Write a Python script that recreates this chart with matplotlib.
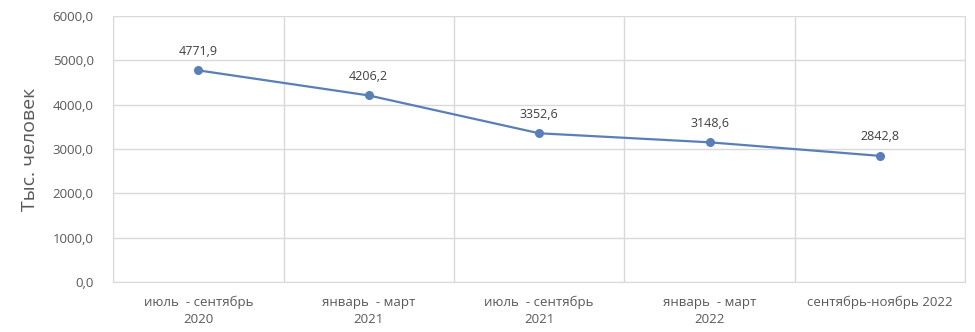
import numpy as np
from matplotlib import pyplot as plt

periods = ['июль  - сентябрь\n2020', 'январь  - март\n2021', 'июль  - сентябрь\n2021',
           'январь  - март\n2022', 'сентябрь-ноябрь 2022']
values = [4771.9, 4206.2, 3352.6, 3148.6, 2842.8]
yticks = [0, 1000, 2000, 3000, 4000, 5000, 6000]

plt.rcParams['font.family'] = ['Open Sans', 'DejaVu Sans']

fig = plt.figure(figsize=(9.75, 3.32), dpi=100)
ax = fig.add_axes([0.116, 0.151, 0.874, 0.801])

x = np.arange(len(values))
ax.plot(x, values, color='#5A7FB8', linewidth=1.6, marker='o', markersize=5.5, zorder=3)
for xi, v in zip(x, values):
    ax.annotate(f'{v:.1f}'.replace('.', ','), (xi, v), xytext=(0, 9), textcoords='offset points',
                ha='center', va='bottom', fontsize=9, color='#404040')

ax.set_xlim(-0.5, len(values) - 0.5)
ax.set_ylim(0, 6000)
ax.set_yticks(yticks)
ax.set_yticklabels([f'{t:.1f}'.replace('.', ',') for t in yticks], fontsize=9.5, color='#595959')
ax.set_xticks(x)
ax.set_xticklabels(periods, fontsize=9.5, color='#595959', linespacing=1.4)
ax.set_xticks(np.arange(-0.5, len(values)), minor=True)
ax.tick_params(axis='both', which='both', length=0)
ax.tick_params(axis='x', pad=10)
ax.tick_params(axis='y', pad=14)

ax.grid(axis='y', color='#D9D9D9', linewidth=1)
ax.grid(axis='x', which='minor', color='#D9D9D9', linewidth=1)
for s in ax.spines.values():
    s.set_color('#D9D9D9')
ax.spines['top'].set_visible(False)

ax.set_ylabel('Тыс. человек', fontsize=14, color='#595959', labelpad=10)

plt.savefig('out.png', dpi=100)
